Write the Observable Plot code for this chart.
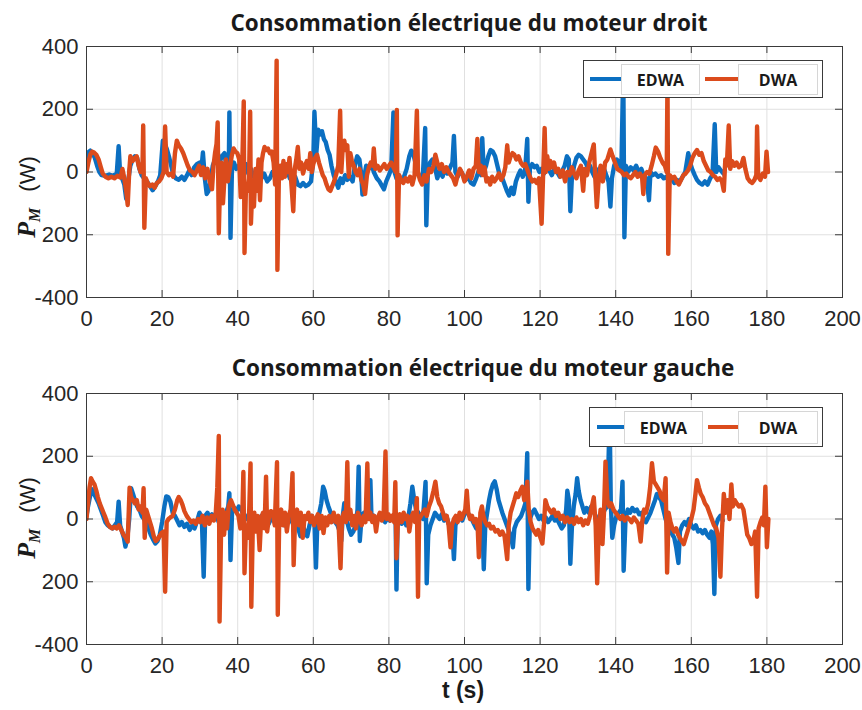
<!DOCTYPE html>
<html>
<head>
<meta charset="utf-8">
<script src="https://cdn.jsdelivr.net/npm/d3@7"></script>
<script src="https://cdn.jsdelivr.net/npm/@observablehq/plot@0.6"></script>
<style>
  html, body { margin: 0; padding: 0; background: #fff; }
  #chart { position: relative; width: 862px; height: 710px; background: #fff; overflow: hidden; }
  .abs { position: absolute; white-space: nowrap; line-height: 1; }
  .title { font-family: "Open Sans", sans-serif; font-weight: 700; font-size: 22.5px; color: #1a1a1a; transform: translate(-50%, -50%); }
  .ylab { transform: translate(-50%, -50%) rotate(-90deg); color: #1a1a1a; }
  .ylab .p { font-family: "Liberation Serif", "DejaVu Serif", serif; font-style: italic; font-weight: 700; font-size: 26px; }
  .ylab .m { font-family: "Liberation Serif", "DejaVu Serif", serif; font-style: italic; font-weight: 700; font-size: 16px; position: relative; top: 5px; }
  .ylab .w { font-family: "Liberation Sans", Arial, sans-serif; font-size: 22px; margin-left: 16px; }
  .xlab { font-family: "Liberation Sans", Arial, sans-serif; font-weight: 700; font-size: 23px; color: #1a1a1a; transform: translate(-50%, -50%); }
  .legend { position: absolute; background: #fff; border: 1px solid #3a3a3a; box-sizing: border-box; }
  .legline { position: absolute; height: 4px; }
  .legbox { position: absolute; box-sizing: border-box; border: 1.5px solid #d6d6d6; background: #fff;
            font-family: "Open Sans", sans-serif; font-weight: 700; font-size: 16px; color: #1a1a1a;
            display: flex; align-items: center; justify-content: center; }
</style>
</head>
<body>
<div id="chart"></div>
<script>
// Axis ticks and their printed labels
const xTicks = [0, 20, 40, 60, 80, 100, 120, 140, 160, 180, 200];
const yTicks = [-400, -200, 0, 200, 400];
const yTickLabels = ["-400", "200", "0", "200", "400"];

const seriesNames = ["EDWA", "DWA"];
const seriesColors = ["#0b6fc1", "#db4b1c"];

// Right motor power, EDWA  [t (s), P (W)]
const droitEDWA = [[0,45],[0.4,62],[1,68],[1.6,60],[2.2,45],[2.8,20],[3.4,0],[4,-10],[5,-12],[6,-8],[7,-12],[8,-5],[8.5,82],[8.9,-5],[9.4,-20],[10,-40],[10.5,-85],[11,-30],[11.6,20],[12.2,40],[12.8,50],[13.4,45],[14,10],[14.6,-10],[15.2,-20],[16,-30],[16.8,-45],[17.5,-58],[18.2,-45],[18.9,-30],[19.5,-10],[20.2,100],[20.7,90],[21.2,75],[21.8,50],[22.4,20],[23,-10],[23.6,-20],[24.4,-25],[25.2,-15],[25.9,-25],[26.6,-10],[27.2,5],[27.8,-10],[28.5,15],[29.2,25],[29.9,30],[30.4,10],[30.8,62],[31.3,-20],[31.8,-70],[32.3,-60],[32.8,-30],[33.4,20],[34,40],[34.6,70],[35.2,30],[35.8,50],[36.5,60],[37.1,10],[37.6,-30],[37.8,190],[38.1,-210],[38.5,20],[39,30],[39.6,10],[40.3,20],[40.9,0],[41.5,15],[42.2,25],[42.8,-5],[43.5,10],[44.2,-15],[45,-25],[45.7,-10],[46.3,-20],[47,-5],[47.8,-30],[48.5,-20],[49.2,0],[50,-15],[50.8,-25],[51.5,0],[52.3,-10],[53,10],[53.8,-20],[54.5,-30],[55.2,-15],[55.9,-40],[56.6,-45],[57.3,-35],[58,-45],[58.7,-40],[59.4,-30],[60,40],[60.3,192],[60.8,60],[61.3,135],[61.8,120],[62.3,130],[62.8,105],[63.3,95],[63.8,70],[64.3,55],[64.8,20],[65.4,-10],[66,-30],[66.6,-50],[67.2,-20],[67.8,-35],[68.4,-10],[69,-25],[69.7,-15],[70.4,-30],[71,20],[71.6,50],[72.2,40],[72.7,-10],[73,-72],[73.4,-20],[74,20],[74.7,10],[75.4,25],[76,0],[76.8,-20],[77.5,-30],[78.2,-45],[78.7,-55],[79.3,-30],[80,-10],[80.6,10],[81.2,190],[81.5,0],[82,-20],[82.6,-10],[83.3,-30],[84,-15],[84.7,10],[85.4,50],[85.9,68],[86.4,60],[87,30],[87.6,0],[88.3,-20],[89,-10],[89.6,140],[89.9,-170],[90.3,0],[90.9,30],[91.5,40],[92.2,15],[92.8,-20],[93.5,5],[94.2,-15],[94.8,10],[95.5,-5],[96.2,15],[96.8,30],[97.2,115],[97.6,0],[98.2,-15],[98.9,5],[99.6,-10],[100.3,-25],[101,-15],[101.7,-35],[102.4,-40],[103.1,-20],[103.8,5],[104.4,-10],[104.7,108],[105.1,0],[105.7,20],[106.3,50],[106.9,70],[107.5,65],[108.1,50],[108.7,20],[109.3,-10],[110,-20],[110.6,-40],[111.2,-60],[111.8,-75],[112.4,-50],[113,-70],[113.6,-30],[114.2,-10],[114.8,5],[115.4,-15],[116,0],[116.6,105],[116.9,-95],[117.3,10],[117.9,25],[118.5,15],[119.1,20],[119.8,0],[120.4,10],[121,-5],[121.7,15],[122.4,5],[123.1,-10],[123.8,10],[124.5,0],[125.2,-15],[125.9,5],[126.5,20],[127.1,50],[127.6,40],[128,-125],[128.4,-20],[129,20],[129.6,45],[130.2,55],[130.8,50],[131.4,40],[132,30],[132.6,15],[133.2,20],[133.8,0],[134.4,-15],[135,-5],[135.6,10],[136.2,5],[136.9,10],[137.5,-10],[138.1,-30],[138.6,-110],[139,-20],[139.6,20],[140.3,40],[140.9,30],[141.5,10],[142,330],[142.3,-208],[142.7,20],[143.3,0],[144,15],[144.7,5],[145.4,20],[146.1,0],[146.8,10],[147.5,-15],[148.2,-20],[148.8,-90],[149.2,0],[149.8,-10],[150.5,-5],[151.2,-15],[152,-10],[152.7,-20],[153.4,-15],[154.1,-30],[154.8,-20],[155.5,-35],[156.2,-25],[157,-30],[157.7,-15],[158.4,0],[159.2,60],[159.7,30],[160.2,10],[160.9,-10],[161.5,-25],[162.2,-35],[162.9,-40],[163.6,-30],[164.3,-40],[165,-20],[165.6,-10],[166.2,152],[166.6,0],[167.2,15],[167.8,5],[168.5,-5]];

// Right motor power, DWA
const droitDWA = [[0,0],[0.5,30],[1,55],[1.5,65],[2,62],[2.6,55],[3.2,40],[3.8,15],[4.3,-5],[5,-15],[5.8,-20],[6.6,-15],[7.4,-20],[8.2,-12],[9,-18],[9.5,10],[10,-20],[10.5,-60],[10.9,-105],[11.3,0],[11.6,50],[12.2,35],[12.8,45],[13.3,50],[13.8,20],[14.3,0],[14.8,10],[15,148],[15.3,-178],[15.7,-20],[16.2,-35],[16.8,-45],[17.4,-40],[18,-50],[18.6,-35],[19.2,-30],[19.8,-20],[20.4,0],[20.8,145],[21.2,0],[21.8,-10],[22.4,-5],[22.9,-15],[23.4,60],[23.9,100],[24.4,85],[25,75],[25.6,60],[26.2,40],[26.8,20],[27.4,5],[28,0],[28.6,-10],[29.2,5],[29.8,20],[30.3,-10],[30.9,15],[31.4,-20],[32,10],[32.6,-30],[33.2,-55],[33.6,20],[34,60],[34.4,90],[34.7,158],[35,-195],[35.3,-50],[35.7,30],[36.1,-100],[36.5,-20],[36.9,40],[37.4,-30],[37.9,10],[38.4,50],[38.9,75],[39.4,65],[39.9,60],[40.4,40],[40.8,-80],[41.2,20],[41.6,225],[41.8,-258],[42.2,-40],[42.6,-60],[43,-20],[43.3,192],[43.5,-165],[43.9,-40],[44.3,-110],[44.7,10],[45.1,-60],[45.5,40],[45.9,-90],[46.3,30],[46.7,60],[47.1,80],[47.5,70],[48,75],[48.5,60],[49,65],[49.5,30],[49.9,-40],[50.3,355],[50.5,-312],[50.9,-10],[51.3,20],[51.7,-20],[52.1,35],[52.5,-15],[52.9,25],[53.3,0],[53.7,45],[54.1,-20],[54.7,-125],[55.1,10],[55.5,40],[55.9,80],[56.3,10],[56.8,30],[57.3,-5],[57.8,20],[58.3,35],[58.8,10],[59.2,60],[59.6,0],[60,25],[60.5,45],[61,55],[61.5,30],[62,10],[62.5,-10],[63,-20],[63.5,-40],[64,-55],[64.5,-60],[65,-45],[65.5,-30],[66,-10],[66.6,20],[67.1,195],[67.4,0],[67.8,80],[68.2,100],[68.6,70],[69,85],[69.4,-15],[69.8,60],[70.2,35],[70.7,20],[71.2,0],[71.7,-10],[72.2,10],[72.7,-25],[73.2,-40],[73.7,-70],[74.2,-10],[74.7,15],[75.2,30],[75.7,20],[76,75],[76.4,10],[77,20],[77.6,5],[78.2,15],[78.8,25],[79.4,10],[80,20],[80.6,30],[81.2,15],[81.8,0],[82.1,198],[82.3,-202],[82.7,-10],[83.2,-25],[83.8,-35],[84.4,-20],[85,-30],[85.6,-15],[86.2,-40],[86.8,-10],[87.4,195],[87.7,0],[88.2,-25],[88.8,-40],[89.4,-10],[90,-30],[90.6,10],[91.2,0],[91.8,20],[92.3,55],[92.8,30],[93.4,10],[94,25],[94.6,0],[95.2,15],[95.8,0],[96.4,-10],[97,-20],[97.6,-40],[98.2,-10],[98.8,10],[99.4,-5],[100,-30],[100.6,-15],[101.2,5],[101.8,-20],[102.4,10],[103,20],[103.4,105],[103.8,0],[104.3,20],[104.8,-10],[105.3,15],[105.8,-30],[106.3,-20],[106.8,-40],[107.3,-15],[107.9,-30],[108.5,-20],[109.1,-5],[109.7,-25],[110.3,-10],[110.8,15],[111.3,85],[111.7,30],[112.2,50],[112.7,60],[113.2,55],[113.7,40],[114.3,50],[114.9,30],[115.5,20],[116.1,25],[116.7,5],[117.3,-15],[117.9,-30],[118.5,-25],[119.1,-35],[119.7,-20],[120.4,-165],[120.8,-10],[121.2,140],[121.5,0],[121.9,50],[122.3,10],[122.7,35],[123.2,15],[123.7,30],[124.2,0],[124.8,10],[125.4,-15],[126,5],[126.6,-30],[127.2,0],[127.8,-10],[128.4,15],[129,-5],[129.6,-20],[130.2,5],[130.8,20],[131.4,-60],[131.8,10],[132.4,-10],[133,30],[133.6,60],[134.2,88],[134.6,-20],[135,-112],[135.4,-40],[136,20],[136.6,-30],[137.2,30],[137.8,40],[138.6,72],[139.2,50],[139.8,30],[140.4,10],[141,5],[141.6,0],[142.2,-10],[142.8,-5],[143.4,-15],[144,-20],[144.6,-10],[145.2,0],[145.8,-15],[146.4,-5],[147,-20],[147.3,-70],[147.7,-10],[148.3,0],[148.9,-5],[149.5,20],[150.1,50],[150.6,78],[151.2,65],[151.8,45],[152.4,30],[153,20],[153.5,0],[153.7,300],[153.9,-261],[154.3,-10],[154.9,-20],[155.5,-15],[156.1,-30],[156.7,-40],[157.3,-25],[157.9,-10],[158.5,-5],[159.1,5],[159.7,20],[160.3,45],[160.9,60],[161.5,70],[162.1,55],[162.7,60],[163.3,35],[163.9,20],[164.5,5],[165.1,0],[165.7,-10],[166.3,-15],[166.9,-25],[167.5,-20],[168.1,-30],[168.6,-60],[169,40],[169.4,20],[169.9,148],[170.3,10],[170.8,35],[171.4,20],[172,30],[172.6,15],[173.2,20],[173.8,45],[174.3,10],[174.9,-20],[175.5,-30],[176.1,-35],[176.7,-25],[177.2,-10],[177.4,145],[177.7,-15],[178.3,-25],[178.9,-5],[179.5,-15],[179.9,65],[180.3,0]];

// Left motor power, EDWA
const gaucheEDWA = [[0,10],[0.4,40],[0.9,70],[1.4,95],[2,80],[2.6,65],[3.2,50],[3.8,30],[4.4,10],[5,-10],[5.6,-20],[6.2,-25],[6.9,-30],[7.5,-20],[8.1,-10],[8.5,55],[8.9,-20],[9.4,-40],[9.9,-60],[10.3,-88],[10.8,-60],[11.3,0],[11.8,98],[12.3,80],[12.8,60],[13.4,40],[14,30],[14.6,10],[15.2,0],[15.8,-10],[16.4,-30],[17,-50],[17.6,-65],[18.2,-78],[18.8,-70],[19.4,-50],[20,-10],[20.6,40],[21.1,72],[21.6,70],[22.2,55],[22.8,20],[23.4,10],[24,-5],[24.6,-20],[25.2,-10],[25.9,-25],[26.6,-15],[27.3,-35],[28,-20],[28.6,-30],[29.3,-5],[29.9,20],[30.5,5],[31,-184],[31.4,10],[32,20],[32.6,5],[33.2,15],[33.8,0],[34.4,10],[35,-10],[35.6,15],[36.2,5],[36.9,20],[37.5,40],[37.8,82],[38.1,-131],[38.5,20],[39.1,35],[39.7,25],[40.3,40],[40.9,30],[41.5,15],[42.1,0],[42.7,10],[43.3,25],[43.9,5],[44.5,-15],[45.1,-20],[45.7,0],[46.3,10],[47,-10],[47.6,5],[48.2,-15],[48.8,0],[49.4,10],[50,-5],[50.6,5],[51.2,-10],[51.8,5],[52.4,-20],[53,0],[53.6,10],[54.2,-5],[54.8,-20],[55.4,0],[56,-30],[56.6,-55],[57.2,-20],[57.8,-40],[58.4,-55],[59,-20],[59.6,10],[60.3,-10],[60.7,-155],[61.1,0],[61.6,20],[62.1,50],[62.6,103],[63,90],[63.5,60],[64,40],[64.6,20],[65.2,0],[65.8,-10],[66.4,-20],[67,-40],[67.4,-70],[67.8,10],[68.2,50],[68.8,0],[69.4,-30],[70,-50],[70.6,-40],[71.2,-20],[71.7,30],[72,167],[72.3,-70],[72.8,10],[73.4,20],[74,0],[74.6,10],[75.1,124],[75.4,0],[76,10],[76.6,-10],[77.2,5],[77.8,15],[78.4,0],[79,-10],[79.6,5],[80.2,-5],[80.8,0],[81.4,10],[81.8,-20],[82,-225],[82.3,-10],[82.8,0],[83.4,-15],[84,5],[84.6,-20],[85.2,10],[85.7,50],[86.2,103],[86.7,60],[87.2,30],[87.8,20],[88.4,10],[89,0],[89.7,118],[90,-205],[90.4,-50],[91,-20],[91.6,0],[92.2,20],[92.8,10],[93.4,0],[94,15],[94.6,-5],[95.2,10],[95.8,-15],[96.4,-30],[96.9,-60],[97.2,-128],[97.6,-20],[98.2,0],[98.8,10],[99.4,-5],[100,15],[100.7,25],[101.3,10],[101.9,0],[102.5,-15],[103.1,-30],[103.7,-10],[104.3,0],[104.8,-40],[105.1,-160],[105.5,-20],[106,20],[106.5,60],[107,90],[107.5,110],[108,120],[108.5,95],[109,60],[109.5,40],[110,20],[110.6,0],[111.2,-20],[111.8,-40],[112.4,-60],[112.8,-90],[113.2,-30],[113.8,-10],[114.4,0],[115,10],[115.6,30],[116.1,50],[116.6,210],[116.9,-223],[117.3,0],[117.9,20],[118.5,30],[119.1,15],[119.7,0],[120.3,10],[120.9,-5],[121.5,5],[122.1,-10],[122.7,0],[123.3,10],[123.9,-5],[124.5,0],[125.1,-15],[125.7,-30],[126.3,-20],[126.9,30],[127.2,90],[127.6,60],[128,-143],[128.4,-30],[128.9,40],[129.4,80],[129.8,130],[130.2,90],[130.7,60],[131.2,40],[131.7,20],[132.3,35],[132.9,20],[133.5,40],[134.1,25],[134.7,10],[135.3,-10],[135.9,0],[136.5,10],[137.1,30],[137.8,40],[138.4,330],[138.7,50],[139.1,-60],[139.6,-20],[140.2,10],[140.8,20],[141.4,30],[141.8,119],[142.1,-165],[142.6,0],[143.2,30],[143.8,20],[144.4,35],[145,25],[145.6,30],[146.2,15],[146.8,20],[147.4,0],[148,-10],[148.6,5],[149.2,20],[149.8,40],[150.4,60],[150.9,80],[151.4,70],[152,60],[152.6,30],[153.2,0],[153.8,-20],[154.4,-30],[155,-50],[155.5,-60],[156,-90],[156.6,-140],[157,-40],[157.6,-20],[158.2,-10],[158.8,-20],[159.4,0],[160,-20],[160.6,-30],[161.2,-20],[161.8,-40],[162.4,-35],[163,-45],[163.6,-35],[164.2,-50],[164.8,-60],[165.3,-40],[165.7,-80],[166.1,-239],[166.5,-20],[167.1,0],[167.7,10],[168.3,-5]];

// Left motor power, DWA
const gaucheDWA = [[0,0],[0.4,50],[0.8,100],[1.2,130],[1.6,120],[2.1,110],[2.6,90],[3,70],[3.5,50],[4,35],[4.5,20],[5,5],[5.6,-15],[6.2,-25],[6.8,-30],[7.4,-25],[8,-30],[8.6,-20],[9.2,-35],[9.8,-50],[10.4,-60],[10.9,-72],[11.4,100],[11.8,70],[12.3,60],[12.8,50],[13.3,60],[13.8,30],[14.3,40],[14.8,20],[15.1,98],[15.4,-60],[15.8,30],[16.3,10],[16.8,-10],[17.3,-30],[17.8,-55],[18.3,-70],[18.8,-65],[19.3,-55],[19.8,-45],[20.4,-40],[20.8,-232],[21.2,-10],[21.7,0],[22.2,5],[22.8,10],[23.4,30],[24,60],[24.4,70],[24.9,60],[25.4,45],[25.9,25],[26.5,10],[27.1,0],[27.7,-10],[28.3,-5],[28.9,-15],[29.5,0],[30.1,-10],[30.7,10],[31.3,-20],[31.9,5],[32.5,-15],[33.1,10],[33.7,-5],[34.2,20],[34.6,100],[35,265],[35.2,-327],[35.6,-40],[36,30],[36.4,-50],[36.8,20],[37.2,-30],[37.6,40],[38.2,60],[38.7,45],[39.2,30],[39.7,20],[40.2,10],[40.7,-30],[41.2,0],[41.5,150],[41.8,-173],[42.2,-20],[42.6,-60],[43,10],[43.4,177],[43.6,-280],[44,-20],[44.4,20],[44.8,-40],[45.3,10],[45.8,-99],[46.2,0],[46.7,20],[47.1,-30],[47.5,135],[47.8,-40],[48.3,10],[48.8,25],[49.3,15],[49.8,-20],[50.4,181],[50.6,-305],[51,10],[51.5,30],[52,-20],[52.5,20],[53,-40],[53.5,10],[54,30],[54.5,146],[54.8,-147],[55.2,10],[55.7,30],[56.2,-20],[56.7,20],[57.2,-60],[57.7,10],[58.2,0],[58.7,20],[59.2,-10],[59.7,10],[60.2,-20],[60.7,0],[61.2,15],[61.7,-30],[62.2,10],[62.7,-45],[63.2,5],[63.7,-20],[64.2,10],[64.8,-10],[65.4,20],[66,-10],[66.6,10],[67.2,-157],[67.6,0],[68.1,20],[68.6,-10],[69,181],[69.3,0],[69.8,30],[70.3,-20],[70.8,10],[71.3,-30],[71.8,20],[72.3,0],[72.8,-20],[73.3,10],[73.8,-10],[74.3,177],[74.6,0],[75.1,20],[75.6,-10],[76.1,10],[76.6,-40],[77.1,5],[77.6,20],[78.1,-5],[78.6,10],[79.1,215],[79.4,0],[79.9,15],[80.4,-5],[80.9,10],[81.4,-10],[81.7,117],[82,-125],[82.4,0],[82.9,15],[83.4,-10],[83.9,20],[84.4,0],[84.9,10],[85.4,-40],[85.9,5],[86.4,20],[86.9,-10],[87.4,66],[87.7,-248],[88,0],[88.5,10],[89,20],[89.5,30],[90,10],[90.6,40],[91.2,60],[91.8,90],[92.3,119],[92.8,70],[93.3,50],[93.8,40],[94.3,20],[94.8,0],[95.3,10],[95.8,-20],[96.3,-90],[96.7,-20],[97.2,0],[97.7,10],[98.2,-10],[98.7,20],[99.2,0],[99.7,15],[100.2,30],[100.6,90],[101,20],[101.5,0],[102,10],[102.5,-10],[103,0],[103.5,-30],[103.8,-122],[104.2,20],[104.6,40],[105,10],[105.5,-10],[106,-20],[106.5,-15],[107,-30],[107.6,-25],[108.2,-40],[108.8,-35],[109.4,-50],[110,-40],[110.6,-55],[111.3,-128],[111.7,-20],[112.2,20],[112.7,40],[113.2,60],[113.7,82],[114.2,70],[114.8,90],[115.3,103],[115.8,60],[116.3,80],[116.6,119],[117,30],[117.5,-10],[118,-30],[118.5,-40],[119,-50],[119.5,-35],[120.1,-60],[120.6,-78],[121,-20],[121.4,60],[121.9,40],[122.4,30],[123,20],[123.6,30],[124.2,10],[124.8,20],[125.4,0],[126,10],[126.6,-10],[127.2,5],[127.8,-10],[128.4,0],[129,-15],[129.6,5],[130.2,-10],[130.8,0],[131.4,-20],[132,-5],[132.6,-15],[133.2,10],[133.7,40],[134.2,69],[134.7,-20],[135.1,-205],[135.5,-30],[136,30],[136.5,-80],[136.9,20],[137.3,183],[137.8,60],[138.3,40],[138.8,50],[139.4,30],[140,20],[140.6,10],[141.2,0],[141.8,10],[142.4,-5],[143,5],[143.6,0],[144.2,-10],[144.8,5],[145.4,-5],[146,-15],[146.6,-72],[147,-10],[147.5,30],[148,20],[148.6,50],[149.1,100],[149.6,178],[150.1,120],[150.6,110],[151.1,100],[151.6,90],[152.1,70],[152.7,60],[153.2,130],[153.6,-171],[154,20],[154.5,-10],[155,-30],[155.5,-40],[156,-30],[156.5,-50],[157,-60],[157.5,-70],[158,-80],[158.5,-60],[159,-40],[159.5,-20],[160,0],[160.6,30],[161.1,80],[161.5,124],[162,100],[162.5,80],[163,70],[163.6,50],[164.2,40],[164.8,20],[165.4,0],[166,-20],[166.6,-30],[167.2,-60],[167.7,-184],[168.1,-40],[168.6,80],[169.1,20],[169.6,60],[170.1,0],[170.6,110],[171,40],[171.5,60],[172,50],[172.6,40],[173.2,45],[173.8,30],[174.3,-10],[174.8,-50],[175.3,-60],[175.9,-80],[176.4,-70],[176.9,-40],[177.4,-248],[177.8,-30],[178.3,-10],[178.8,5],[179.2,-20],[179.6,103],[180,-90],[180.4,0]];

const titles = ["Consommation électrique du moteur droit", "Consommation électrique du moteur gauche"];
const xLabel = "t (s)";

const chart = document.getElementById("chart");
const W = 862, H = 337, ML = 86, MR = 20, MT = 46, MB = 40;
const innerW = W - ML - MR, innerH = H - MT - MB, tickLen = 7;

function panel(edwa, dwa) {
  return Plot.plot({
    width: W, height: H,
    marginLeft: ML, marginRight: MR, marginTop: MT, marginBottom: MB,
    style: { fontFamily: "'Liberation Sans', Arial, sans-serif", fontSize: "22px", color: "#262626", background: "transparent", overflow: "visible" },
    x: { domain: [0, 200], ticks: xTicks, tickSize: 0, tickPadding: 13, label: null },
    y: { domain: [-400, 400], ticks: yTicks, tickFormat: (d) => yTickLabels[yTicks.indexOf(d)], tickSize: 0, tickPadding: 8, label: null },
    marks: [
      Plot.gridX(xTicks, { stroke: "#e0e0e0", strokeOpacity: 1 }),
      Plot.gridY(yTicks, { stroke: "#e0e0e0", strokeOpacity: 1 }),
      Plot.line(edwa, { x: (d) => d[0], y: (d) => d[1], stroke: seriesColors[0], strokeWidth: 4.4, strokeLinejoin: "round", clip: true }),
      Plot.line(dwa, { x: (d) => d[0], y: (d) => d[1], stroke: seriesColors[1], strokeWidth: 4.4, strokeLinejoin: "round", clip: true }),
      Plot.frame({ stroke: "#3a3a3a", strokeWidth: 1 }),
      // inward tick marks on all four sides
      Plot.ruleX(xTicks, { stroke: "#3a3a3a", insetBottom: innerH - tickLen }),
      Plot.ruleX(xTicks, { stroke: "#3a3a3a", insetTop: innerH - tickLen }),
      Plot.ruleY(yTicks, { stroke: "#3a3a3a", insetRight: innerW - tickLen }),
      Plot.ruleY(yTicks, { stroke: "#3a3a3a", insetLeft: innerW - tickLen })
    ]
  });
}

function place(el, left, top) {
  el.style.position = "absolute";
  el.style.left = left + "px";
  el.style.top = top + "px";
  chart.appendChild(el);
  return el;
}

function div(cls, text, css) {
  const d = document.createElement("div");
  d.className = cls;
  if (text != null) d.textContent = text;
  Object.assign(d.style, css || {});
  chart.appendChild(d);
  return d;
}

function yLabel(cx, cy) {
  const d = div("abs ylab", null, { left: cx + "px", top: cy + "px" });
  d.innerHTML = '<span class="p">P</span><span class="m">M</span><span class="w">(W)</span>';
}

function legend(box, y) {
  const lg = div("legend", null, { left: box.x + "px", top: box.y + "px", width: box.w + "px", height: box.h + "px" });
  box.items.forEach((it, i) => {
    const ln = document.createElement("div");
    ln.className = "legline";
    Object.assign(ln.style, { left: it.lx + "px", width: it.lw + "px", top: (y - box.y - 3) + "px", background: seriesColors[i] });
    lg.appendChild(ln);
    const tb = document.createElement("div");
    tb.className = "legbox";
    tb.textContent = seriesNames[i];
    Object.assign(tb.style, { left: it.bx + "px", width: it.bw + "px", top: it.by + "px", height: it.bh + "px" });
    lg.appendChild(tb);
  });
}

// upper panel: right motor
place(panel(droitEDWA, droitDWA), 0, 0);
div("abs title", titles[0], { left: "469px", top: "23px" });
yLabel(27, 197);
legend({ x: 583, y: 60, w: 240, h: 38, items: [
  { lx: 6, lw: 32, bx: 37, bw: 79, by: 3, bh: 31 },
  { lx: 121, lw: 34, bx: 154, bw: 80, by: 3, bh: 31 }
] }, 79);

// lower panel: left motor
place(panel(gaucheEDWA, gaucheDWA), 0, 347);
div("abs title", titles[1], { left: "483px", top: "368px" });
yLabel(27, 518);
legend({ x: 589, y: 407, w: 234, h: 40, items: [
  { lx: 7, lw: 28, bx: 34, bw: 79, by: 3, bh: 33 },
  { lx: 118, lw: 31, bx: 148, bw: 80, by: 3, bh: 33 }
] }, 427);

div("abs xlab", xLabel, { left: "463px", top: "690px" });
</script>
</body>
</html>
